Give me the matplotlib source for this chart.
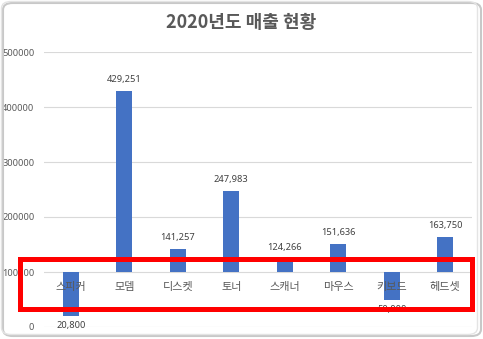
import matplotlib
matplotlib.use("Agg")
import matplotlib.pyplot as plt
from matplotlib.patches import Rectangle, FancyBboxPatch

plt.rcParams['font.family'] = ['Noto Sans CJK KR', 'DejaVu Sans']

categories = ['스피커', '모뎀', '디스켓', '토너', '스캐너', '마우스', '키보드', '헤드셋']
sales = [20800, 429251, 141257, 247983, 124266, 151636, 50000, 163750]
y_ticks = [0, 100000, 200000, 300000, 400000, 500000]
baseline = 100000

W, H = 483, 339
fig = plt.figure(figsize=(W / 100, H / 100), dpi=100)
fig.patch.set_facecolor('white')

# chart-area frame with soft shadow
fig.patches.append(FancyBboxPatch((3 / W, 3 / H), 478 / W, 333 / H,
                                  boxstyle="round,pad=0,rounding_size=0.02",
                                  transform=fig.transFigure, facecolor='none',
                                  edgecolor='#c8c8c8', linewidth=1.5, zorder=0))
fig.patches.append(FancyBboxPatch((1.5 / W, 4.5 / H), 476 / W, 333 / H,
                                  boxstyle="round,pad=0,rounding_size=0.02",
                                  transform=fig.transFigure, facecolor='none',
                                  edgecolor='#e4e4e4', linewidth=1.0, zorder=0))

ax = fig.add_axes([44 / W, (H - 327) / H, 428 / W, 275 / H])
ax.set_xlim(-0.5, len(categories) - 0.5)
ax.set_ylim(0, 500000)
for s in ax.spines.values():
    s.set_visible(False)
ax.set_yticks(y_ticks)
ax.set_yticklabels([str(t) for t in y_ticks], fontsize=6.7, color='#595959',
                   family=['Noto Sans', 'DejaVu Sans'])
ax.tick_params(axis='y', length=0, pad=7)
ax.set_xticks([])
ax.grid(axis='y', color='#d9d9d9', linewidth=0.8)
ax.set_axisbelow(True)

x = list(range(len(categories)))
heights = [v - baseline for v in sales]
ax.bar(x, heights, bottom=baseline, width=0.3, color='#4472c4', zorder=2)

for xi, v in zip(x, sales):
    if v >= baseline:
        ax.annotate(f'{v:,}', (xi, v), xytext=(0, 5), textcoords='offset points',
                    ha='center', va='bottom', fontsize=6.7, color='#404040',
                    family=['Noto Sans', 'DejaVu Sans'], zorder=3)
    else:
        ax.annotate(f'{v:,}', (xi, v), xytext=(0, -4), textcoords='offset points',
                    ha='center', va='top', fontsize=6.7, color='#404040',
                    family=['Noto Sans', 'DejaVu Sans'], zorder=3)

for xi, c in zip(x, categories):
    ax.annotate(c, (xi, baseline), xytext=(0, -11), textcoords='offset points',
                ha='center', va='center', fontsize=8, color='#595959', zorder=4)

fig.text(241 / W, 1 - 22 / H, '2020년도 매출 현황', ha='center', va='center',
         fontsize=13, fontweight='bold', color='#595959')

# highlight box around the category axis
fig.patches.append(Rectangle((19.5 / W, 1 - 308.5 / H), 452 / W, 50 / H,
                             transform=fig.transFigure, facecolor='none',
                             edgecolor='#ff0000', linewidth=3.6, zorder=10))

fig.savefig('out.png', dpi=100)
